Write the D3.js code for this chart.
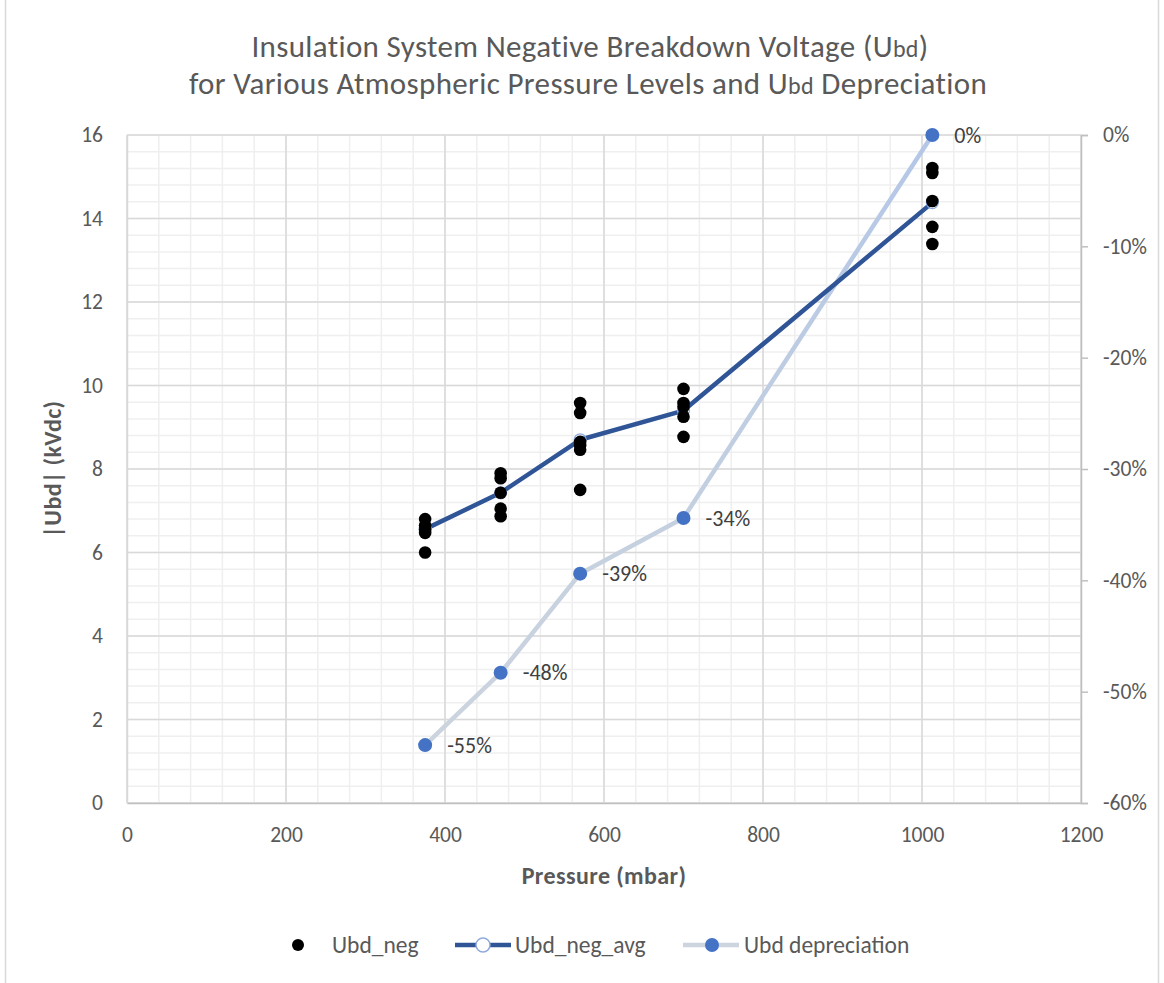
<!DOCTYPE html>
<html lang="en">
<head>
<meta charset="utf-8">
<script src="https://cdn.jsdelivr.net/npm/d3@7"></script>
<style>
body { margin:0; background:#fff; }
svg { display:block; font-family: Carlito, Calibri, Lato, sans-serif; }
.tick text { fill:#595959; font-size:21.5px; }
.title { fill:#595959; font-size:31px; letter-spacing:0.35px; }
.axtitle { fill:#595959; font-size:24px; font-weight:bold; letter-spacing:0.4px; }
.lbl { fill:#404040; font-size:22px; }
.leg { fill:#595959; font-size:23.5px; }
</style>
</head>
<body>
<svg id="chart"></svg>
<script>
// values
var pressure = [375, 470, 570, 700, 1013];
var ubdNeg = [
	[6.80, 6.65, 6.55, 6.47, 6.00],
	[7.90, 7.78, 7.43, 7.05, 6.87],
	[9.58, 9.34, 8.65, 8.57, 8.46, 7.50],
	[9.92, 9.58, 9.49, 9.25, 8.77],
	[15.21, 15.09, 14.42, 13.80, 13.39]
];
var ubdAvg = [6.56, 7.43, 8.70, 9.40, 14.38];
var depreciation = [-0.548, -0.483, -0.394, -0.344, 0];
var xTicks = [0, 200, 400, 600, 800, 1000, 1200];
var yTicks = [0, 2, 4, 6, 8, 10, 12, 14, 16];
var y2Ticks = [0, -0.1, -0.2, -0.3, -0.4, -0.5, -0.6];
var legendNames = ['Ubd_neg', 'Ubd_neg_avg', 'Ubd depreciation'];

var W = 1164, H = 983;
var ml = 127, mt = 135, pw = 954, ph = 668;

var loc = d3.formatLocale({decimal: '.', thousands: '', grouping: [3], currency: ['', ''], minus: '-'});
var pct = loc.format('.0%');

var svg = d3.select('#chart').attr('width', W).attr('height', H);

// chart border (only the sides show in the crop)
svg.append('rect').attr('x', 5.5).attr('y', -10).attr('width', 1153).attr('height', 1010)
	.attr('fill', 'none').attr('stroke', '#d9d9d9').attr('stroke-width', 1.5);

var x = d3.scaleLinear().domain([0, 1200]).range([ml, ml + pw]);
var y = d3.scaleLinear().domain([0, 16]).range([mt + ph, mt]);
var y2 = d3.scaleLinear().domain([-0.6, 0]).range([mt + ph, mt]);

var g = svg.append('g');

// minor grid
g.selectAll('line.vmin').data(d3.range(0, 1201, 40)).enter().append('line')
	.attr('x1', function(d){return x(d);}).attr('x2', function(d){return x(d);})
	.attr('y1', mt).attr('y2', mt + ph)
	.attr('stroke', '#efefef').attr('stroke-width', 1.5);
g.selectAll('line.hmin').data(d3.range(0, 16.01, 0.4)).enter().append('line')
	.attr('y1', function(d){return y(d);}).attr('y2', function(d){return y(d);})
	.attr('x1', ml).attr('x2', ml + pw)
	.attr('stroke', '#efefef').attr('stroke-width', 1.5);
// major grid
g.selectAll('line.vmaj').data(xTicks).enter().append('line')
	.attr('x1', function(d){return x(d);}).attr('x2', function(d){return x(d);})
	.attr('y1', mt).attr('y2', mt + ph)
	.attr('stroke', '#d9d9d9').attr('stroke-width', 1.5);
g.selectAll('line.hmaj').data(yTicks).enter().append('line')
	.attr('y1', function(d){return y(d);}).attr('y2', function(d){return y(d);})
	.attr('x1', ml).attr('x2', ml + pw)
	.attr('stroke', '#d9d9d9').attr('stroke-width', 1.5);

// axes
var xAxis = svg.append('g').attr('transform', 'translate(0,' + (mt + ph) + ')')
	.call(d3.axisBottom(x).tickValues(xTicks).tickSize(0).tickPadding(24).tickFormat(d3.format('d')));
xAxis.select('.domain').attr('stroke', '#bfbfbf').attr('stroke-width', 1.5);

var yAxis = svg.append('g').attr('transform', 'translate(' + ml + ',0)')
	.call(d3.axisLeft(y).tickValues(yTicks).tickSize(0).tickPadding(24));
yAxis.select('.domain').attr('stroke', '#d9d9d9').attr('stroke-width', 1.5);

var y2Axis = svg.append('g').attr('transform', 'translate(' + (ml + pw) + ',0)')
	.call(d3.axisRight(y2).tickValues(y2Ticks).tickSize(7).tickPadding(15).tickFormat(pct));
y2Axis.select('.domain').attr('stroke', '#bfbfbf').attr('stroke-width', 1.5);
y2Axis.selectAll('.tick line').attr('stroke', '#bfbfbf').attr('stroke-width', 1.5);

svg.selectAll('g').attr('font-size', null).attr('font-family', null);

// depreciation line (secondary axis)
var grad = svg.append('defs').append('linearGradient').attr('id', 'dgrad')
	.attr('gradientUnits', 'userSpaceOnUse')
	.attr('x1', x(pressure[0])).attr('x2', x(pressure[4])).attr('y1', 0).attr('y2', 0);
grad.append('stop').attr('offset', 0).attr('stop-color', '#ccd4de');
grad.append('stop').attr('offset', (x(pressure[3]) - x(pressure[0])) / (x(pressure[4]) - x(pressure[0]))).attr('stop-color', '#c4d0e0');
grad.append('stop').attr('offset', 1).attr('stop-color', '#b4c7e7');

var dline = d3.line().x(function(d, i){return x(pressure[i]);}).y(function(d){return y2(d);});
svg.append('path').datum(depreciation).attr('d', dline)
	.attr('fill', 'none').attr('stroke', 'url(#dgrad)').attr('stroke-width', 4.5).attr('stroke-linejoin', 'round');

// average line
var aline = d3.line().x(function(d, i){return x(pressure[i]);}).y(function(d){return y(d);});
svg.append('path').datum(ubdAvg).attr('d', aline)
	.attr('fill', 'none').attr('stroke', '#2f5597').attr('stroke-width', 4.5).attr('stroke-linejoin', 'round');

// hollow average markers (mostly hidden by the dots)
svg.append('g').selectAll('circle').data(ubdAvg).enter().append('circle')
	.attr('cx', function(d, i){return x(pressure[i]);}).attr('cy', function(d){return y(d);})
	.attr('r', 6).attr('fill', 'none').attr('stroke', '#8faadc').attr('stroke-width', 1.2);

// scatter
var pts = [];
pressure.forEach(function(p, i){ ubdNeg[i].forEach(function(v){ pts.push([p, v]); }); });
svg.append('g').selectAll('circle').data(pts).enter().append('circle')
	.attr('cx', function(d){return x(d[0]);}).attr('cy', function(d){return y(d[1]);})
	.attr('r', 6.3).attr('fill', '#000');

// depreciation markers + labels
svg.append('g').selectAll('circle').data(depreciation).enter().append('circle')
	.attr('cx', function(d, i){return x(pressure[i]);}).attr('cy', function(d){return y2(d);})
	.attr('r', 7).attr('fill', '#4472c4');
svg.append('g').selectAll('text').data(depreciation).enter().append('text').attr('class', 'lbl')
	.attr('x', function(d, i){return x(pressure[i]) + 22;}).attr('y', function(d){return y2(d);})
	.attr('dy', '0.35em').text(pct);

// title
var t = svg.append('text').attr('class', 'title').attr('text-anchor', 'middle');
var t1 = t.append('tspan').attr('x', 590).attr('y', 57);
t1.append('tspan').text('Insulation System Negative Breakdown Voltage (U');
t1.append('tspan').attr('font-size', '24px').text('bd');
t1.append('tspan').text(')');
var t2 = t.append('tspan').attr('x', 588).attr('y', 94);
t2.append('tspan').text('for Various Atmospheric Pressure Levels and U');
t2.append('tspan').attr('font-size', '24px').text('bd');
t2.append('tspan').text(' Depreciation');

// axis titles
svg.append('text').attr('class', 'axtitle').attr('text-anchor', 'middle')
	.attr('x', x(600)).attr('y', 884).text('Pressure (mbar)');
svg.append('text').attr('class', 'axtitle').attr('text-anchor', 'middle')
	.attr('transform', 'translate(61,' + (mt + ph / 2) + ') rotate(-90)').text('|Ubd| (kVdc)');

// legend
var ly = 945;
var leg = svg.append('g');
leg.append('circle').attr('cx', 298).attr('cy', ly).attr('r', 6).attr('fill', '#000');
leg.append('text').attr('class', 'leg').attr('x', 332).attr('y', ly).attr('dy', '0.35em').text(legendNames[0]);
leg.append('line').attr('x1', 455).attr('x2', 511).attr('y1', ly).attr('y2', ly)
	.attr('stroke', '#2f5597').attr('stroke-width', 4.5);
leg.append('circle').attr('cx', 483).attr('cy', ly).attr('r', 7).attr('fill', '#fff')
	.attr('stroke', '#8faadc').attr('stroke-width', 1.5);
leg.append('text').attr('class', 'leg').attr('x', 515).attr('y', ly).attr('dy', '0.35em').text(legendNames[1]);
leg.append('line').attr('x1', 683).attr('x2', 739).attr('y1', ly).attr('y2', ly)
	.attr('stroke', '#ccd4de').attr('stroke-width', 4.5);
leg.append('circle').attr('cx', 712).attr('cy', ly).attr('r', 7).attr('fill', '#4472c4');
leg.append('text').attr('class', 'leg').attr('x', 744).attr('y', ly).attr('dy', '0.35em').text(legendNames[2]);
</script>
</body>
</html>
